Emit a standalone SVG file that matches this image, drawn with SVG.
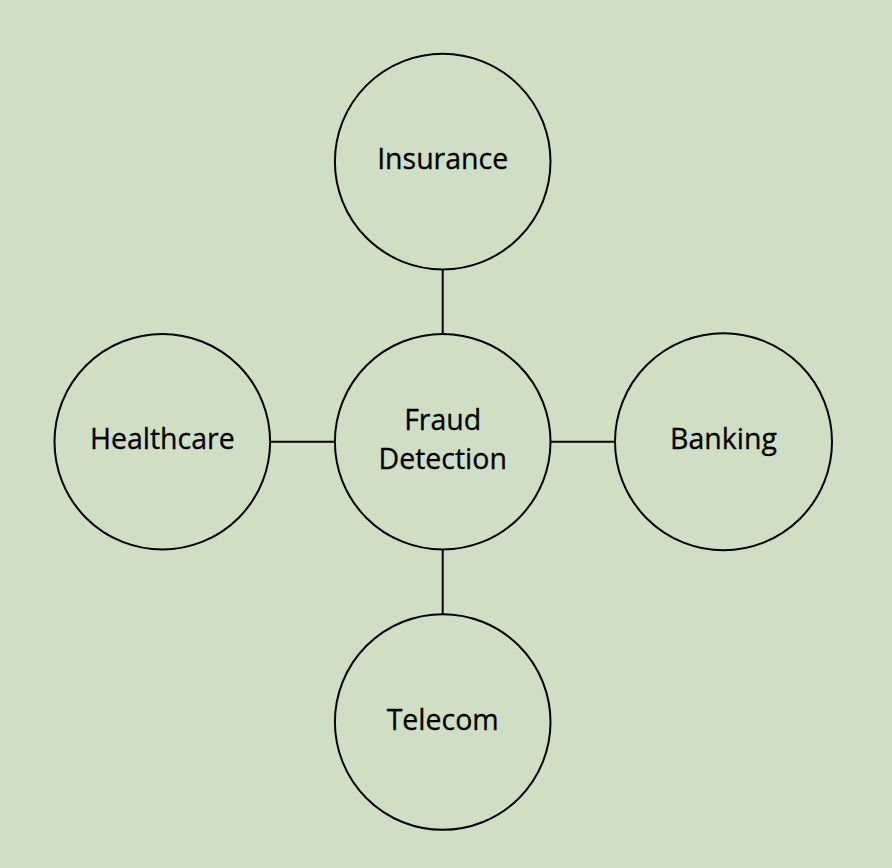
<svg xmlns="http://www.w3.org/2000/svg" width="892" height="868" viewBox="0 0 892 868">
<style>
.node{fill:#cfdfc4;stroke:#000;stroke-width:2}
.lbl{font-family:"Open Sans","Liberation Sans",sans-serif;font-size:28.5px;fill:#000;text-anchor:middle;stroke:#000;stroke-width:0.3}
.conn line{stroke:#000;stroke-width:2}
</style>
<rect width="892" height="868" fill="#cfdfc4"/>
<g id="connectors" class="conn">
<line x1="442.7" y1="269.5" x2="442.7" y2="334"/>
<line x1="442.7" y1="549.5" x2="442.7" y2="614"/>
<line x1="270" y1="441.7" x2="334.7" y2="441.7"/>
<line x1="550.7" y1="441.7" x2="615" y2="441.7"/>
</g>
<g id="fraud-detection">
<circle class="node" cx="442.7" cy="441.7" r="107.8"/>
<text class="lbl" x="442.7" y="430">Fraud</text>
<text class="lbl" x="442.7" y="468.5">Detection</text>
</g>
<g id="insurance">
<circle class="node" cx="442.7" cy="161.6" r="107.8"/>
<text class="lbl" x="442.7" y="168.5">Insurance</text>
</g>
<g id="healthcare">
<circle class="node" cx="162.3" cy="441.7" r="107.8"/>
<text class="lbl" x="162.3" y="449.3">Healthcare</text>
</g>
<g id="banking">
<circle class="node" cx="723.5" cy="441.7" r="108.5"/>
<text class="lbl" x="723.5" y="449.3">Banking</text>
</g>
<g id="telecom">
<circle class="node" cx="442.7" cy="722" r="107.8"/>
<text class="lbl" x="442.7" y="730">Telecom</text>
</g>
</svg>
